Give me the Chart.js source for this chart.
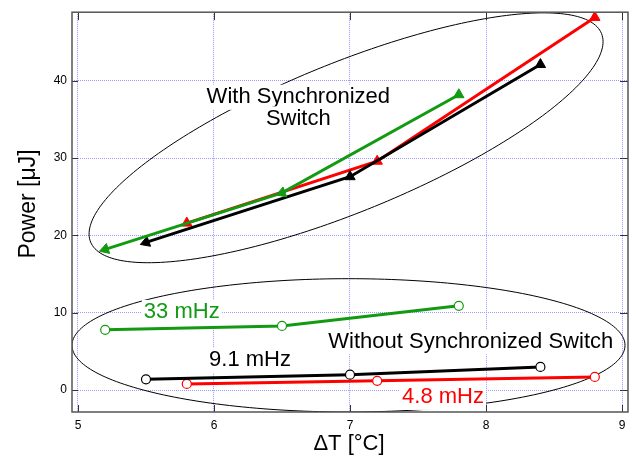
<!DOCTYPE html>
<html>
<head>
<meta charset="utf-8">
<script src="https://cdn.jsdelivr.net/npm/chart.js@4.4.1/dist/chart.umd.min.js"></script>
<style>
  body { margin: 0; background: #fff; }
  #wrap { width: 636px; height: 456px; }
</style>
</head>
<body>
<div id="wrap"><canvas id="powerChart" width="636" height="456"></canvas></div>
<script>
// Valores
const xTicks = [5, 6, 7, 8, 9];
const yTicks = [0, 10, 20, 30, 40];

// Con interruptor sincronizado (triángulos)
const syncX33 = [5.2, 6.5, 7.8];
const sync33 = [18.2, 25.5, 38.2];
const syncX91 = [5.5, 7.0, 8.4];
const sync91 = [19.1, 27.6, 42.1];
const syncX48 = [5.8, 7.2, 8.8];
const sync48 = [21.6, 29.6, 48.2];

// Sin interruptor sincronizado (círculos)
const noSyncX33 = [5.2, 6.5, 7.8];
const noSync33 = [7.8, 8.3, 10.9];
const noSyncX91 = [5.5, 7.0, 8.4];
const noSync91 = [1.4, 2.0, 3.0];
const noSyncX48 = [5.8, 7.2, 8.8];
const noSync48 = [0.8, 1.2, 1.7];

const GREEN = '#129a12';
const RED = '#ff0000';
const BLACK = '#000000';
const FONT = '"Liberation Sans", Arial, sans-serif';

function toPoints(xs, ys) {
    return xs.map((v, i) => ({ x: v, y: ys[i] }));
}

function syncSet(xs, ys, color, rot) {
    return {
        data: toPoints(xs, ys),
        showLine: true,
        borderColor: color,
        backgroundColor: color,
        borderWidth: 3,
        pointStyle: 'triangle',
        pointRadius: 6,
        pointBorderWidth: 1,
        pointRotation: rot
    };
}

function noSyncSet(xs, ys, color) {
    return {
        data: toPoints(xs, ys),
        showLine: true,
        borderColor: color,
        backgroundColor: '#ffffff',
        borderWidth: 3,
        pointStyle: 'circle',
        pointRadius: 4.5,
        pointBorderWidth: 1.2,
        pointBorderColor: color
    };
}

// Elipses y etiquetas en unidades de datos
const ellipses = [
    { cx: 6.971, cy: 32.63, ux: 1.878, uy: 13.49, vx: -0.208, vy: 8.89 },
    { cx: 6.989, cy: 5.79, ux: 2.033, uy: 0, vx: 0, vy: 8.62 }
];

const labels = [
    { text: 'With Synchronized', x: 6.62, y: 37.1, color: BLACK },
    { text: 'Switch', x: 6.62, y: 34.3, color: BLACK },
    { text: '33 mHz', x: 5.763, y: 9.27, color: GREEN },
    { text: '9.1 mHz', x: 6.265, y: 3.09, color: BLACK },
    { text: 'Without Synchronized Switch', x: 7.888, y: 5.49, color: BLACK },
    { text: '4.8 mHz', x: 7.684, y: -1.71, color: RED }
];

const annotations = {
    id: 'annotations',
    beforeDatasetsDraw(chart) {
        const { ctx, chartArea: a, scales: { x, y } } = chart;
        ctx.save();
        ctx.beginPath();
        ctx.rect(a.left, a.top, a.width, a.height);
        ctx.clip();

        // elipses
        ctx.strokeStyle = '#000';
        ctx.lineWidth = 1;
        ellipses.forEach(e => {
            const c0 = x.getPixelForValue(e.cx), c1 = y.getPixelForValue(e.cy);
            const u0 = x.getPixelForValue(e.cx + e.ux) - c0, u1 = y.getPixelForValue(e.cy + e.uy) - c1;
            const v0 = x.getPixelForValue(e.cx + e.vx) - c0, v1 = y.getPixelForValue(e.cy + e.vy) - c1;
            ctx.beginPath();
            for (let i = 0; i <= 240; i++) {
                const t = i / 240 * Math.PI * 2;
                const px = c0 + Math.cos(t) * u0 + Math.sin(t) * v0;
                const py = c1 + Math.cos(t) * u1 + Math.sin(t) * v1;
                if (i === 0) ctx.moveTo(px, py); else ctx.lineTo(px, py);
            }
            ctx.stroke();
        });

        // etiquetas con fondo blanco
        const size = 22;
        ctx.font = size + 'px ' + FONT;
        ctx.textAlign = 'center';
        ctx.textBaseline = 'alphabetic';
        labels.forEach(l => {
            const px = x.getPixelForValue(l.x), py = y.getPixelForValue(l.y);
            const w = ctx.measureText(l.text).width;
            ctx.fillStyle = '#fff';
            ctx.fillRect(px - w / 2 - 2, py - size * 0.84, w + 4, size * 1.14);
            ctx.fillStyle = l.color;
            ctx.fillText(l.text, px, py);
        });
        ctx.restore();
    },
    afterDraw(chart) {
        const { ctx, chartArea: a, scales: { x, y } } = chart;
        ctx.save();
        // marcas hacia dentro
        ctx.strokeStyle = '#333';
        ctx.lineWidth = 1;
        ctx.beginPath();
        xTicks.forEach(v => {
            const px = Math.round(x.getPixelForValue(v)) + 0.5;
            ctx.moveTo(px, a.bottom); ctx.lineTo(px, a.bottom - 7);
            ctx.moveTo(px, a.top); ctx.lineTo(px, a.top + 8);
        });
        yTicks.forEach(v => {
            const py = Math.round(y.getPixelForValue(v)) + 0.5;
            ctx.moveTo(a.left, py); ctx.lineTo(a.left + 6, py);
            ctx.moveTo(a.right, py); ctx.lineTo(a.right - 8, py);
        });
        ctx.stroke();

        // marco
        ctx.strokeStyle = '#555';
        ctx.lineWidth = 1.5;
        ctx.strokeRect(a.left, a.top, a.width, a.height);

        // títulos de ejes
        ctx.fillStyle = '#000';
        ctx.font = '22px ' + FONT;
        ctx.textAlign = 'center';
        ctx.textBaseline = 'alphabetic';
        ctx.fillText('ΔT [°C]', (a.left + a.right) / 2 - 1, 450);

        ctx.translate(35, 204);
        ctx.rotate(-Math.PI / 2);
        ctx.font = '23px ' + FONT;
        ctx.fillText('Power [μJ]', 0, 0);
        ctx.restore();
    }
};

const ctx = document.getElementById('powerChart').getContext('2d');
const powerChart = new Chart(ctx, {
    type: 'scatter',
    data: {
        datasets: [
            syncSet(syncX33, sync33, GREEN, [252, 250, 0]),
            syncSet(syncX91, sync91, BLACK, [250, 0, 0]),
            syncSet(syncX48, sync48, RED, [0, 0, 0]),
            noSyncSet(noSyncX33, noSync33, GREEN),
            noSyncSet(noSyncX91, noSync91, BLACK),
            noSyncSet(noSyncX48, noSync48, RED)
        ]
    },
    options: {
        responsive: false,
        animation: false,
        devicePixelRatio: 1,
        layout: { padding: { top: 10, right: 8, left: 0, bottom: 0 } },
        plugins: {
            legend: { display: false },
            tooltip: { enabled: false }
        },
        scales: {
            x: {
                type: 'linear',
                min: 4.956,
                max: 9.044,
                afterBuildTicks: s => { s.ticks = xTicks.map(v => ({ value: v })); },
                afterFit: s => { s.height = 44; },
                grid: { color: '#9a9aff', lineWidth: 1, drawTicks: false },
                border: { display: false, dash: [1, 1] },
                ticks: { color: '#000', font: { family: FONT, size: 12 }, padding: 6, maxRotation: 0 }
            },
            y: {
                type: 'linear',
                min: -2.83,
                max: 48.87,
                afterBuildTicks: s => { s.ticks = yTicks.map(v => ({ value: v })); },
                afterFit: s => { s.width = 72; },
                grid: { color: '#9a9aff', lineWidth: 1, drawTicks: false },
                border: { display: false, dash: [1, 1] },
                ticks: { color: '#000', font: { family: FONT, size: 12 }, padding: 5 }
            }
        }
    },
    plugins: [annotations]
});
</script>
</body>
</html>
